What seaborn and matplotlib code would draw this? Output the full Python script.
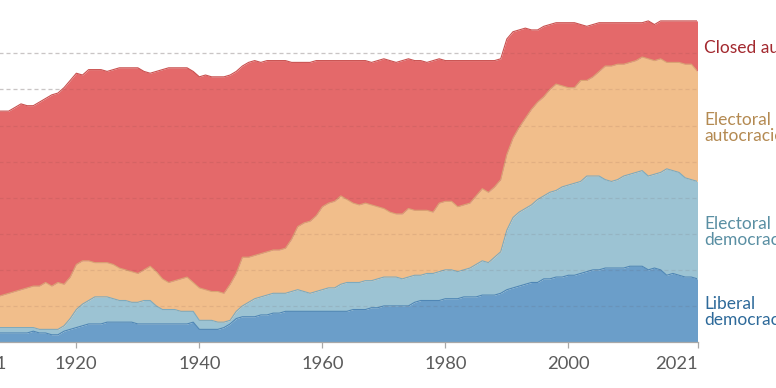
import numpy as np
import pandas as pd
import matplotlib
matplotlib.use("Agg")
import matplotlib.pyplot as plt
import matplotlib.transforms as mtransforms
import seaborn as sns

years = list(range(1901, 2022))

liberal_democracies = [
    5, 5, 5, 5, 5, 5, 5, 5, 5, 5,            # 1901-1910
    5, 5, 6, 5, 5, 4, 4, 6, 7, 8,            # 1911-1920
    9, 10, 10, 10, 11, 11, 11, 11, 11, 10,   # 1921-1930
    10, 10, 10, 10, 10, 10, 10, 10, 11, 7,   # 1931-1940
    7, 7, 7, 8, 10, 13, 14, 14, 14, 15,      # 1941-1950
    15, 16, 16, 17, 17, 17, 17, 17, 17, 17,  # 1951-1960
    17, 17, 17, 17, 18, 18, 18, 19, 19, 20,  # 1961-1970
    20, 20, 20, 20, 22, 23, 23, 23, 23, 24,  # 1971-1980
    24, 24, 25, 25, 25, 26, 26, 26, 27, 29,  # 1981-1990
    30, 31, 32, 33, 33, 35, 35, 36, 36, 37,  # 1991-2000
    37, 38, 39, 40, 40, 41, 41, 41, 41, 42,  # 2001-2010
    42, 42, 40, 41, 40, 37, 38, 37, 36, 36,  # 2011-2020
    35,                                      # 2021
]
electoral_democracies = [
    3, 3, 3, 3, 3, 3, 3, 3, 3, 3,
    3, 3, 2, 2, 2, 3, 3, 3, 6, 10,
    12, 13, 15, 15, 14, 13, 12, 12, 11, 12,
    13, 13, 10, 8, 8, 8, 7, 7, 6, 5,
    5, 5, 4, 3, 2, 4, 6, 8, 10, 10,
    11, 11, 11, 10, 11, 12, 11, 10, 11, 12,
    13, 13, 15, 16, 15, 15, 16, 15, 16, 16,
    16, 16, 15, 16, 15, 14, 15, 15, 16, 16,
    16, 15, 15, 16, 18, 19, 18, 21, 23, 33,
    39, 41, 42, 43, 46, 46, 48, 48, 50, 50,
    51, 51, 53, 52, 52, 49, 48, 49, 51, 51,
    52, 53, 52, 52, 54, 59, 57, 57, 55, 54,
    54,
]
electoral_autocracies = [
    16, 16, 17, 17, 17, 17, 17, 18, 19, 20,
    21, 22, 23, 24, 26, 24, 26, 23, 23, 25,
    24, 22, 19, 19, 19, 19, 18, 17, 17, 16,
    17, 19, 19, 17, 15, 16, 18, 19, 16, 18,
    17, 16, 17, 16, 20, 21, 27, 25, 24, 24,
    24, 24, 24, 25, 29, 35, 38, 40, 42, 46,
    47, 48, 49, 46, 44, 43, 43, 42, 40, 38,
    36, 35, 36, 38, 36, 36, 35, 34, 38, 38,
    38, 36, 36, 36, 38, 40, 39, 39, 40, 42,
    44, 47, 50, 53, 54, 55, 57, 59, 56, 54,
    53, 56, 53, 55, 58, 63, 64, 64, 62, 62,
    62, 63, 65, 63, 63, 59, 60, 61, 63, 64,
    61,
]
closed_autocracies = [
    103, 103, 102, 103, 103, 103, 103, 102, 101, 102,
    103, 101, 100, 102, 102, 106, 105, 109, 109, 106,
    103, 106, 107, 107, 106, 108, 111, 112, 113, 114,
    110, 107, 111, 116, 119, 118, 117, 116, 117, 117,
    119, 119, 119, 120, 116, 112, 106, 108, 108, 106,
    106, 105, 105, 104, 98, 91, 89, 88, 86, 81,
    79, 78, 75, 77, 79, 80, 79, 79, 81, 83,
    84, 84, 85, 83, 83, 83, 82, 84, 80, 78,
    78, 81, 80, 79, 75, 71, 73, 70, 67, 64,
    59, 54, 50, 44, 40, 39, 36, 34, 35, 36,
    36, 31, 30, 29, 27, 24, 24, 23, 23, 22,
    21, 19, 21, 20, 21, 23, 23, 23, 24, 24,
    28,
]

categories = ["Liberal democracies", "Electoral democracies",
              "Electoral autocracies", "Closed autocracies"]
label_lines = ["Liberal\ndemocracies", "Electoral\ndemocracies",
               "Electoral\nautocracies", "Closed autocracies"]
fill_colors = ["#6b9ec9", "#9cc3d3", "#f1be8b", "#e4696a"]
edge_colors = ["#4f86b5", "#7eaabd", "#d9a473", "#c9504f"]
text_colors = ["#2e6a9a", "#5a8fa3", "#b48a52", "#a3292f"]

x_ticks = [1901, 1920, 1940, 1960, 1980, 2000, 2021]
y_grid = [20, 40, 60, 80, 100, 120, 140, 160]

df = pd.DataFrame({"year": years,
                   categories[0]: liberal_democracies,
                   categories[1]: electoral_democracies,
                   categories[2]: electoral_autocracies,
                   categories[3]: closed_autocracies})

sns.set_theme(style="white")
plt.rcParams["font.family"] = ["Lato", "DejaVu Sans"]

W, H = 776, 388
fig = plt.figure(figsize=(W / 100, H / 100), dpi=100)
x0_px, x1_px = -40.5, 697.5
ax_bottom_px = 342
ax = fig.add_axes([x0_px / W, (H - ax_bottom_px) / H,
                   (x1_px - x0_px) / W, 324.7 / H])

ax.stackplot(df["year"], *[df[c] for c in categories],
             colors=fill_colors, linewidth=0, zorder=1)

cum = df[categories].cumsum(axis=1)
for c, ec in zip(categories, edge_colors):
    sns.lineplot(x=df["year"], y=cum[c], color=ec, linewidth=0.8,
                 ax=ax, zorder=2)

for g in y_grid:
    ax.axhline(g, color="#d6d6d6", lw=0.9, ls=(0, (3.2, 2.4)), zorder=0.5)
    ax.axhline(g, color=(0.35, 0.2, 0.2, 0.10), lw=0.9,
               ls=(0, (3.2, 2.4)), zorder=3)

ax.set_xlim(1901, 2021)
ax.set_ylim(0, 180)
ax.set_xlabel("")
ax.set_ylabel("")
ax.set_yticks([])
for s in ["top", "right", "left"]:
    ax.spines[s].set_visible(False)
ax.spines["bottom"].set_color("#a8a8a8")
ax.spines["bottom"].set_linewidth(0.9)
ax.spines["bottom"].set_zorder(4)

ax.set_xticks(x_ticks)
ax.set_xticklabels([str(t) for t in x_ticks])
ax.tick_params(axis="x", bottom=True, length=4.5, width=0.9, color="#a8a8a8",
               pad=5.5, labelsize=13.2, labelcolor="#5b5b5b")
labels = ax.get_xticklabels()
labels[0].set_horizontalalignment("left")
labels[0].set_transform(labels[0].get_transform() +
                        mtransforms.ScaledTranslation(5 / 100, 0,
                                                      fig.dpi_scale_trans))
labels[-1].set_horizontalalignment("right")

# right-side labels
label_y = [312, 232, 128, 48]  # pixel centers from top
for txt, col, yp in zip(label_lines, text_colors, label_y):
    fig.text(704 / W, (H - yp) / H, txt, color=col, fontsize=12.5,
             ha="left", va="center", linespacing=1.05)

fig.savefig("out.png", dpi=100)
